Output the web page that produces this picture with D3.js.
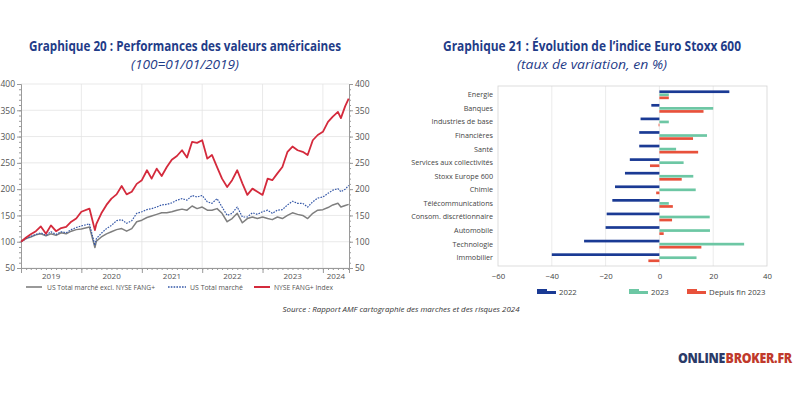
<!DOCTYPE html>
<html><head><meta charset="utf-8">
<script src="https://cdn.jsdelivr.net/npm/d3@7"></script>
<style>body{margin:0;background:#fff}svg{display:block}</style>
</head><body>
<svg id="c" width="800" height="400"></svg>
<script>
// ---------- Left chart data ----------
const dates = [
 "2019-01-01","2019-02-01","2019-03-01","2019-04-01","2019-05-01","2019-06-01","2019-07-01","2019-08-01","2019-09-01","2019-10-01","2019-11-01","2019-12-01",
 "2020-01-01","2020-02-19","2020-03-23","2020-04-01","2020-05-01","2020-06-01","2020-07-01","2020-08-01","2020-09-01","2020-10-01","2020-11-01","2020-12-01",
 "2021-01-01","2021-02-01","2021-03-01","2021-04-01","2021-05-01","2021-06-01","2021-07-01","2021-08-01","2021-09-01","2021-10-01","2021-11-01","2021-12-01",
 "2022-01-01","2022-02-01","2022-03-01","2022-04-01","2022-05-01","2022-06-01","2022-07-01","2022-08-01","2022-09-01","2022-10-01","2022-11-01","2022-12-01",
 "2023-01-01","2023-02-01","2023-03-01","2023-04-01","2023-05-01","2023-06-01","2023-07-01","2023-08-01","2023-09-01","2023-10-01","2023-11-01","2023-12-01",
 "2024-01-01","2024-02-01","2024-03-01","2024-04-01","2024-04-19","2024-05-15","2024-06-05"];
const fangIndex = [100,108,114,120,129,115,131,120,126,128,138,144,
 157,163,122,134,154,170,182,190,206,190,195,210,
 217,236,220,239,225,242,256,263,274,260,290,288,
 293,258,265,242,220,204,217,236,211,189,201,195,
 189,220,217,230,242,271,281,274,271,265,293,303,
 309,328,338,347,335,358,372];
const usTotal = [100,106,110,114,117,112,119,114,119,117,123,127,
 130,134,93,106,116,125,131,140,142,135,140,154,
 157,161,163,166,170,171,174,179,182,179,188,185,
 188,176,173,182,166,150,154,166,147,147,155,152,
 157,160,154,160,161,170,177,173,173,166,176,183,
 185,192,198,201,195,200,207];
const usExFang = [100,106,109,113,115,111,115,112,117,115,120,123,
 124,128,89,101,109,115,119,123,125,120,125,138,
 141,146,149,152,155,155,157,160,162,160,168,163,
 166,160,160,163,154,138,144,154,136,144,147,144,
 147,144,142,147,144,150,155,152,150,144,154,160,
 161,165,170,173,166,169,171];
const leftYTicks = [50,100,150,200,250,300,350,400];
const leftYears = ["2019","2020","2021","2022","2023","2024"];
const leftLegend = ["US Total marché excl. NYSE FANG+","US Total marché","NYSE FANG+ Index"];

// ---------- Right chart data ----------
const sectors = ["Energie","Banques","Industries de base","Financières","Santé","Services aux collectivités","Stoxx Europe 600","Chimie","Télécommunications","Consom. discrétionnaire","Automobile","Technologie","Immobilier"];
const var2022 = [26,-3,-7,-7.5,-7.5,-11,-12.8,-16.5,-17.5,-19.6,-20,-28,-40];
const var2023 = [3.5,20,3.5,17.7,6.2,9,12.6,13.5,3.5,18.7,18.8,31.5,13.8];
const varSince2023 = [3.5,16.4,-0.3,12.5,14.4,-3.5,8.3,-1.2,5,4.7,1.6,15.6,-4.1];
const rightSeries = ["2022","2023","Depuis fin 2023"];
const rightXTicks = [-60,-40,-20,0,20,40];

const svg = d3.select("#c");
const titleColor = "#1f3c88";
const font = "'Open Sans', Lato, sans-serif";

// Titles
function title(x, y, txt, len, opts){
  const t = svg.append("text").attr("x",x).attr("y",y).attr("text-anchor","middle")
    .attr("font-family",font).attr("fill",titleColor).text(txt)
    .attr("font-size",opts.size).attr("font-weight",opts.weight||"normal")
    .attr("font-style",opts.style||"normal");
  if(len) t.attr("textLength",len).attr("lengthAdjust","spacingAndGlyphs");
}
title(185,51,"Graphique 20 : Performances des valeurs américaines",312,{size:13.5,weight:700});
title(185,69,"(100=01/01/2019)",108,{size:12.5,style:"italic"});
title(592,51,"Graphique 21 : Évolution de l’indice Euro Stoxx 600",298,{size:13.5,weight:700});
title(592,69,"(taux de variation, en %)",150,{size:12.5,style:"italic"});

// ---------- Left chart ----------
const parse = d3.timeParse("%Y-%m-%d");
const dts = dates.map(parse);
const xL = d3.scaleTime().domain([parse("2019-01-01"), parse("2024-06-07")]).range([21,349]);
const yL = d3.scaleLinear().domain([50,400]).range([268,84]);
const gL = svg.append("g");
const gridC = "#e3e3e3", axisC = "#9a9a9a", txtC = "#555";

// grid
gL.selectAll(".hg").data(leftYTicks).enter().append("line")
  .attr("x1",21).attr("x2",349).attr("y1",d=>yL(d)).attr("y2",d=>yL(d))
  .attr("stroke",gridC).attr("stroke-width",0.8);
const yearStarts = leftYears.slice(1).map(y=>parse(y+"-01-01"));
gL.selectAll(".vg").data(yearStarts).enter().append("line")
  .attr("x1",d=>xL(d)).attr("x2",d=>xL(d)).attr("y1",84).attr("y2",268)
  .attr("stroke",gridC).attr("stroke-width",0.8);

// axes
const axL = d3.axisLeft(yL).tickValues(leftYTicks).tickSize(4).tickFormat(d3.format("d"));
const axR = d3.axisRight(yL).tickValues(leftYTicks).tickSize(4).tickFormat(d3.format("d"));
const minorY = d3.range(50,401,10);
const aL = gL.append("g").attr("transform","translate(21,0)").call(axL);
const aR = gL.append("g").attr("transform","translate(349,0)").call(axR);
[aL,aR].forEach(a=>{
  a.select(".domain").attr("stroke",axisC);
  a.selectAll(".tick line").attr("stroke",axisC);
  a.selectAll("text").attr("fill",txtC).attr("font-size",8.5).attr("font-family",font);
});
aL.selectAll("text").attr("x",-6);
aR.selectAll("text").attr("x",6);
gL.append("g").attr("transform","translate(21,0)").call(d3.axisLeft(yL).tickValues(minorY).tickSize(2).tickFormat(""))
  .call(g=>{g.select(".domain").remove();g.selectAll("line").attr("stroke",axisC);});
gL.append("g").attr("transform","translate(349,0)").call(d3.axisRight(yL).tickValues(minorY).tickSize(2).tickFormat(""))
  .call(g=>{g.select(".domain").remove();g.selectAll("line").attr("stroke",axisC);});

// x axis
const axB = gL.append("g").attr("transform","translate(0,268)")
  .call(d3.axisBottom(xL).tickValues(yearStarts).tickSize(5).tickFormat(""));
axB.select(".domain").attr("stroke",axisC);
axB.selectAll("line").attr("stroke",axisC);
gL.append("g").attr("transform","translate(0,268)")
  .call(d3.axisBottom(xL).ticks(d3.timeMonth.every(1)).tickSize(2).tickFormat(""))
  .call(g=>{g.select(".domain").remove();g.selectAll("line").attr("stroke",axisC);});
const endD = xL.domain()[1];
gL.selectAll(".yl").data(leftYears).enter().append("text")
  .attr("x",d=>{const s=parse(d+"-01-01");const e=d3.min([parse((+d+1)+"-01-01"),endD]);return (xL(s)+xL(e))/2;})
  .attr("y",279).attr("text-anchor","middle").attr("font-size",8).attr("font-family",font)
  .attr("fill",txtC).text(d=>d);

// lines
const series = [
  {v:usExFang, c:"#7f7f7f", w:1.5, dash:null},
  {v:usTotal, c:"#3558a8", w:1.2, dash:"1.6,1.2"},
  {v:fangIndex, c:"#d42a3c", w:1.8, dash:null}
];
const line = d3.line().x((d,i)=>xL(dts[i])).y(d=>yL(d));
series.forEach(s=>{
  gL.append("path").datum(s.v).attr("d",line).attr("fill","none")
    .attr("stroke",s.c).attr("stroke-width",s.w).attr("stroke-dasharray",s.dash)
    .attr("stroke-linejoin","round");
});

// legend left
const legX = [26,168,254];
const legTX = [47,190,274];
const legTL = [108,53,59];
leftLegend.forEach((t,i)=>{
  const s = series[i];
  gL.append("line").attr("x1",legX[i]).attr("x2",legX[i]+(i==1?18:16)).attr("y1",287).attr("y2",287)
    .attr("stroke",s.c).attr("stroke-width",i==2?2:(i==1?1.3:1.6)).attr("stroke-dasharray",s.dash);
  gL.append("text").attr("x",legTX[i]).attr("y",289.5).attr("font-size",7.2)
    .attr("font-family",font).attr("fill",txtC).attr("textLength",legTL[i])
    .attr("lengthAdjust","spacingAndGlyphs").text(t);
});

// ---------- Right chart ----------
const xR = d3.scaleLinear().domain([-60,40]).range([498,767]);
const yR = d3.scaleBand().domain(sectors).range([88,264.5]).padding(0);
const ySub = d3.scaleBand().domain(rightSeries).range([-4.4,4.4]).paddingInner(0.12);
const colR = ["#1a3a94","#6dc7a4","#e8513b"];
const gR = svg.append("g");
gR.selectAll(".rg").data(rightXTicks.slice(1,-1)).enter().append("line")
  .attr("x1",d=>xR(d)).attr("x2",d=>xR(d)).attr("y1",86).attr("y2",266)
  .attr("stroke","#e6e6e6").attr("stroke-width",0.8);
gR.append("rect").attr("x",498).attr("y",86).attr("width",269).attr("height",180)
  .attr("fill","none").attr("stroke","#d4d4d4").attr("stroke-width",0.8);
const allVals = [var2022,var2023,varSince2023];
allVals.forEach((vals,si)=>{
  gR.selectAll(".b"+si).data(vals).enter().append("rect")
    .attr("x",d=>xR(Math.min(0,d))).attr("width",d=>Math.abs(xR(d)-xR(0)))
    .attr("y",(d,i)=>yR(sectors[i])+yR.bandwidth()/2+ySub(rightSeries[si]))
    .attr("height",ySub.bandwidth()).attr("fill",colR[si]);
});
gR.selectAll(".cl").data(sectors).enter().append("text")
  .attr("x",493).attr("y",d=>yR(d)+yR.bandwidth()/2+2.5).attr("text-anchor","end")
  .attr("font-size",7.2).attr("font-family",font).attr("fill","#444").text(d=>d);
const axRB = gR.append("g").attr("transform","translate(0,266)")
  .call(d3.axisBottom(xR).tickValues(rightXTicks).tickSize(0).tickPadding(7));
axRB.select(".domain").remove();
axRB.selectAll("text").attr("font-size",7.8).attr("font-family",font).attr("fill","#444");

// legend right
const legRX = [537,629,687];
rightSeries.forEach((t,i)=>{
  gR.append("rect").attr("x",legRX[i]).attr("y",289).attr("width",10).attr("height",5).attr("fill",colR[i]);
  gR.append("rect").attr("x",legRX[i]+10).attr("y",291).attr("width",9).attr("height",3).attr("fill",colR[i]);
  gR.append("text").attr("x",legRX[i]+22).attr("y",295).attr("font-size",7.8)
    .attr("font-family",font).attr("fill","#444").text(t);
});

// Source
svg.append("text").attr("x",401).attr("y",312).attr("text-anchor","middle")
  .attr("font-size",7.8).attr("font-style","italic").attr("font-family",font).attr("fill","#333")
  .attr("textLength",237).attr("lengthAdjust","spacingAndGlyphs")
  .text("Source : Rapport AMF cartographie des marches et des risques 2024");

// Logo: two texts placed by natural width, group scaled horizontally to fit
const logoG = svg.append("g");
const t1 = logoG.append("text").attr("x",0).attr("y",0).attr("font-size",14.5).attr("font-weight",800)
  .attr("font-family",font).attr("fill","#2b3a67").attr("letter-spacing",-0.3).text("ONLINE");
const w1 = t1.node().getComputedTextLength();
const t2 = logoG.append("text").attr("x",w1+0.5).attr("y",0).attr("font-size",14.5).attr("font-weight",800)
  .attr("font-family",font).attr("fill","#c0392b").attr("letter-spacing",-0.3).text("BROKER.FR");
const w2 = t2.node().getComputedTextLength();
const sc = 114/(w1+0.5+w2);
logoG.attr("transform",`translate(678,363) scale(${sc},1)`);
</script>
</body></html>
